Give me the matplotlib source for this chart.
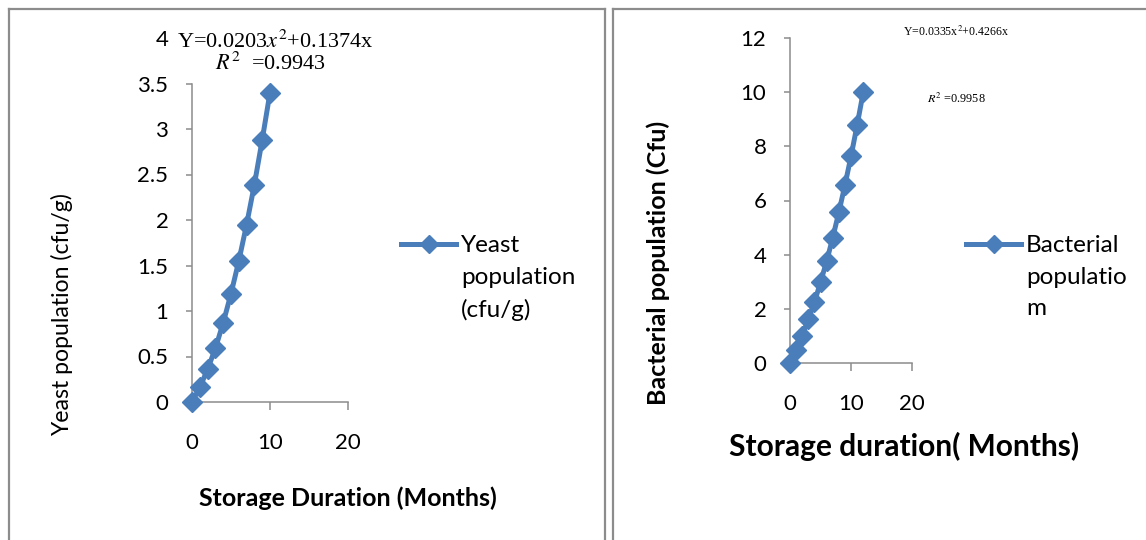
import numpy as np
import matplotlib
matplotlib.use("Agg")
import matplotlib.pyplot as plt
from matplotlib.lines import Line2D

# left chart: yeast
yeast_months = [0, 1, 2, 3, 4, 5, 6, 7, 8, 9, 10]
yeast_pop = [0, 0.16, 0.36, 0.59, 0.87, 1.19, 1.55, 1.95, 2.39, 2.88, 3.40]
yeast_yticks = [0, 0.5, 1, 1.5, 2, 2.5, 3, 3.5, 4]

# right chart: bacteria
bact_months = [0, 1, 2, 3, 4, 5, 6, 7, 8, 9, 10, 11, 12]
bact_pop = [0, 0.49, 1.01, 1.62, 2.24, 2.98, 3.75, 4.62, 5.56, 6.56, 7.63, 8.78, 9.99]
bact_yticks = [0, 2, 4, 6, 8, 10, 12]

month_ticks = [0, 10, 20]

blue = "#4a7ebb"
grey = "#8c8c8c"

plt.rcParams['font.family'] = ['Lato', 'DejaVu Sans']
plt.rcParams['mathtext.fontset'] = 'stix'

W, H = 1146, 540
fig = plt.figure(figsize=(W / 100, H / 100), dpi=100)


def box(x0, y0, x1, y1):
    # pixel box (top-left origin) -> figure fractions
    return [x0 / W, 1 - y1 / H, (x1 - x0) / W, (y1 - y0) / H]


def fx(x):
    return x / W


def fy(y):
    return 1 - y / H


ax1 = fig.add_axes(box(192, 38, 348, 402))
ax2 = fig.add_axes(box(790, 38, 912, 363))

for ax in (ax1, ax2):
    ax.patch.set_alpha(0)
    ax.spines['top'].set_visible(False)
    ax.spines['right'].set_visible(False)
    for s in ('left', 'bottom'):
        ax.spines[s].set_color(grey)
        ax.spines[s].set_linewidth(1.1)
    ax.tick_params(colors=grey, labelcolor='black', direction='out', width=1.1)
    ax.tick_params(axis='x', length=6, pad=16, labelsize=16)
    ax.tick_params(axis='y', length=4, pad=13, labelsize=16)
    ax.set_xlim(0, 20)
    ax.set_xticks(month_ticks)

# yeast
ax1.plot(yeast_months, yeast_pop, color=blue, lw=3.6, marker='D', ms=10.5,
         clip_on=False, zorder=3)
ax1.set_ylim(0, 4)
ax1.set_yticks(yeast_yticks)
ax1.set_yticklabels(["0", "0.5", "1", "1.5", "2", "2.5", "3", "3.5", "4"])
ax1.spines['left'].set_bounds(0, 3.5)
ax1.yaxis.get_major_ticks()[-1].tick1line.set_visible(False)

# bacteria
ax2.plot(bact_months, bact_pop, color=blue, lw=3.6, marker='D', ms=10.5,
         clip_on=False, zorder=3)
ax2.set_ylim(0, 12)
ax2.set_yticks(bact_yticks)

# trend equations
fig.text(fx(275), fy(42), "Y=0.0203$x^2$+0.1374x", family='Liberation Serif',
         fontsize=16, ha='center', va='center')
fig.text(fx(270), fy(64), "$R^2$  =0.9943", family='Liberation Serif',
         fontsize=16, ha='center', va='center')
fig.text(fx(956), fy(32), "Y=0.0335x$^2$+0.4266x", family='Liberation Serif',
         fontsize=8.6, ha='center', va='center')
fig.text(fx(956), fy(99), "$R^2$ =0.9958", family='Liberation Serif',
         fontsize=8.8, ha='center', va='center')

# axis titles
fig.text(fx(62), fy(315), "Yeast population (cfu/g)", rotation=90,
         ha='center', va='center', fontsize=16.6)
fig.text(fx(348), fy(498), "Storage Duration (Months)", fontweight='bold',
         ha='center', va='center', fontsize=18)
fig.text(fx(658), fy(263), "Bacterial population (Cfu)", rotation=90,
         fontweight='bold', ha='center', va='center', fontsize=18)
fig.text(fx(904), fy(446), "Storage duration( Months)", fontweight='bold',
         ha='center', va='center', fontsize=21.5)

# legends drawn by hand so the key sits on the first line
for (x0, x1), label in [((401, 456), "Yeast\npopulation\n(cfu/g)"),
                        ((966, 1021), "Bacterial\npopulatio\nm")]:
    fig.add_artist(Line2D([fx(x0), fx((x0 + x1) / 2), fx(x1)], [fy(244)] * 3,
                          color=blue, lw=3.6, marker='D', ms=9, markevery=[1]))
    fig.text(fx(x1 + 5), fy(235), label, ha='left', va='top', fontsize=17.5,
             linespacing=1.62)

# panel borders
for xs, ys in [([9, 9], [540, 9]), ([9, 605], [9, 9]), ([605, 605], [9, 540]),
               ([613, 613], [540, 9]), ([613, 1146], [9, 9])]:
    fig.add_artist(Line2D([fx(v) for v in xs], [fy(v) for v in ys],
                          color=grey, lw=1.6))

fig.savefig("out.png", dpi=100)
